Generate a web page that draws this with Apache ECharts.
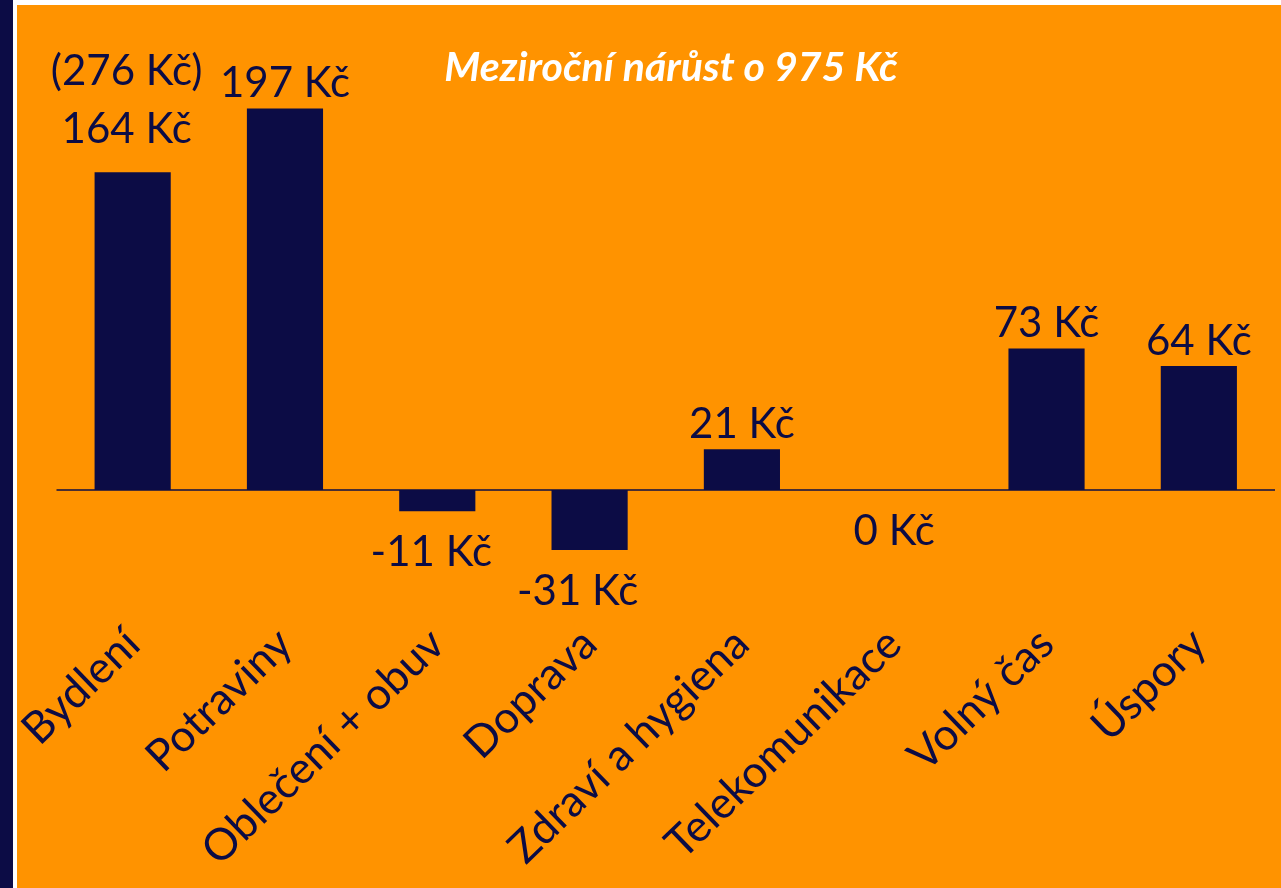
<!DOCTYPE html>
<html>
<head>
<meta charset="utf-8">
<script src="https://cdn.jsdelivr.net/npm/echarts@6/dist/echarts.min.js"></script>
<style>
  html, body { margin: 0; padding: 0; background: #ffffff; width: 1281px; height: 888px; overflow: hidden; }
  #strip { position: absolute; left: 0; top: 0; width: 13px; height: 888px; background: #0C0C45; }
  #chart { position: absolute; left: 17px; top: 5px; width: 1264px; height: 883px; background: #FF9300; }
</style>
</head>
<body>
<div id="strip"></div>
<div id="chart"></div>
<script>
// Data
const categories = ['Bydlení', 'Potraviny', 'Oblečení + obuv', 'Doprava', 'Zdraví a hygiena', 'Telekomunikace', 'Volný čas', 'Úspory'];
const values = [164, 197, -11, -31, 21, 0, 73, 64];
const notes = ['(276 Kč)', '', '', '', '', '', '', ''];
const titleText = 'Meziroční nárůst o 975 Kč';
const unit = ' Kč';

const NAVY = '#0C0C45';
const FONT = 'Lato';

// label style tweaks (horizontal nudges), kept apart from the data
const labelNudge = { 0: -6, 2: -6, 3: -12 };

const chart = echarts.init(document.getElementById('chart'), null, { renderer: 'canvas' });

const seriesData = values.map((v, i) => {
  const item = { value: v, label: { position: v <= 0 ? 'bottom' : 'top' } };
  if (v <= 0) item.label.distance = 20;
  if (notes[i]) {
    item.label.distance = 14;
    item.label.lineHeight = 58;
  }
  if (labelNudge[i] !== undefined) item.label.offset = [labelNudge[i], 0];
  return item;
});

chart.setOption({
  backgroundColor: '#FF9300',
  animation: false,
  title: {
    text: titleText,
    left: 649,
    top: 37,
    textAlign: 'center',
    textStyle: { fontFamily: FONT, fontSize: 41, fontWeight: 'bold', fontStyle: 'italic', color: '#ffffff' }
  },
  grid: { left: 39.5, right: 6, top: 97.6, bottom: 301.1, containLabel: false, outerBoundsMode: 'none' },
  xAxis: {
    type: 'category',
    data: categories,
    axisLine: { show: false, onZero: false },
    axisTick: { show: false },
    splitLine: { show: false },
    axisLabel: {
      interval: 0,
      rotate: 44,
      margin: 50,
      color: NAVY,
      fontFamily: FONT,
      fontSize: 44
    }
  },
  yAxis: {
    type: 'value',
    min: -50,
    max: 200,
    show: false,
    splitLine: { show: false }
  },
  series: [{
    type: 'bar',
    data: seriesData,
    barWidth: '50%',
    itemStyle: { color: NAVY },
    label: {
      show: true,
      distance: 4,
      color: NAVY,
      fontFamily: FONT,
      fontSize: 42,
      formatter: p => (notes[p.dataIndex] ? notes[p.dataIndex] + '\n' : '') + p.value + unit
    },
    markLine: {
      silent: true,
      symbol: ['none', 'none'],
      label: { show: false },
      lineStyle: { color: NAVY, width: 1.5, type: 'solid' },
      data: [{ yAxis: 0 }]
    }
  }]
});
</script>
</body>
</html>
